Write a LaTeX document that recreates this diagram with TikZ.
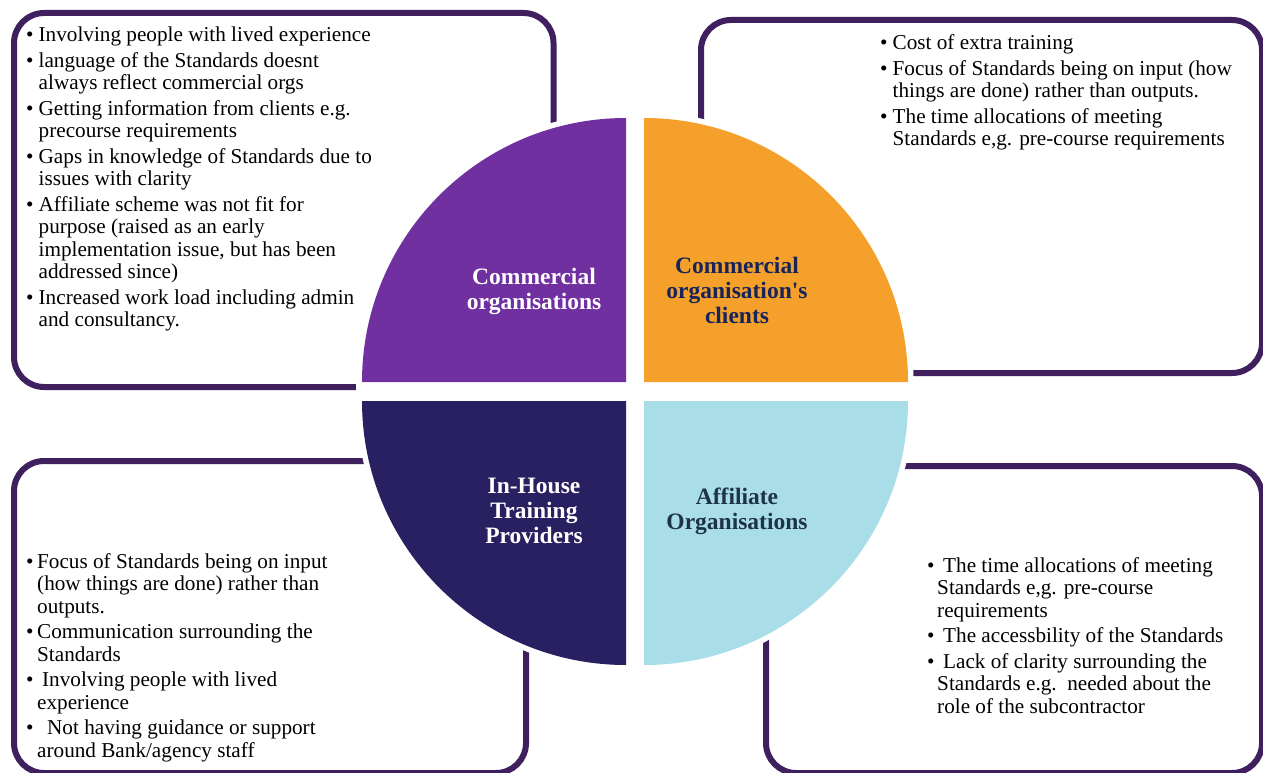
\documentclass[tikz,border=0pt]{standalone}
\usepackage{fontspec}
\setmainfont{Liberation Serif}
\definecolor{boxc}{RGB}{64,31,95}
\definecolor{cpurple}{RGB}{112,48,160}
\definecolor{corange}{RGB}{245,160,42}
\definecolor{cnavy}{RGB}{40,32,96}
\definecolor{clblue}{RGB}{169,221,232}
\definecolor{tnavy}{RGB}{22,36,90}
\definecolor{tslate}{RGB}{30,50,72}
\newcommand{\bu}[1][12.5pt]{\makebox[#1][l]{\textbullet}}
\newcommand{\ind}[1][12.5pt]{\hspace*{#1}}
\begin{document}
\begin{tikzpicture}[x=1pt,y=-1pt,
  box/.style={draw=boxc, line width=6pt, rounded corners=30pt, anchor=north west, inner sep=0pt},
  halo/.style={fill=white, draw=white, line width=11pt},
  body/.style={anchor=north west, inner sep=0pt, align=left, font=\fontsize{21.2}{22.5}\selectfont},
  lbl/.style={align=center, inner sep=0pt, font=\fontsize{23.5}{25}\selectfont\bfseries}]
\useasboundingbox[fill=white] (0,0) rectangle (1263,773);
% boxes
\node[box, minimum width=539.5pt, minimum height=374pt] (tlbox) at (11,10) {};
\node[box, minimum width=561pt, minimum height=353pt] (trbox) at (698,17) {};
\node[box, minimum width=512pt, minimum height=312pt] (blbox) at (11,458) {};
\node[box, minimum width=496pt, minimum height=307pt] (brbox) at (763,463) {};
% halos
\path[halo] (626,382) -- (362,382) arc[start angle=180, end angle=270, radius=264] -- cycle;
\path[halo] (644,382) -- (644,118) arc[start angle=270, end angle=360, radius=264] -- cycle;
\path[halo] (626,401) -- (362,401) arc[start angle=180, end angle=90, radius=264] -- cycle;
\path[halo] (644,401) -- (908,401) arc[start angle=0, end angle=90, radius=264] -- cycle;
\fill[white] (356,380) rectangle (914,403);
\fill[white] (624,112) rectangle (646,671);
% quadrants
\fill[cpurple] (626,382) -- (362,382) arc[start angle=180, end angle=270, radius=264] -- cycle;
\fill[corange] (644,382) -- (644,118) arc[start angle=270, end angle=360, radius=264] -- cycle;
\fill[cnavy] (626,401) -- (362,401) arc[start angle=180, end angle=90, radius=264] -- cycle;
\fill[clblue] (644,401) -- (908,401) arc[start angle=0, end angle=90, radius=264] -- cycle;
% labels
\node[lbl, text=white] (lco) at (534,291) {Commercial\\organisations};
\node[lbl, text=tnavy] (lcc) at (737,290) {Commercial\\organisation\textquotesingle s\\clients};
\node[lbl, text=white] (lih) at (534,511) {In-House\\Training\\Providers};
\node[lbl, text=tslate] (laf) at (737,511) {Affiliate\\Organisations};
% texts
\node[body] (ttl) at (26,27) {\bu Involving people with lived experience\\[3pt]
\bu language of the Standards doesnt\\
\ind always reflect commercial orgs\\[3pt]
\bu Getting information from clients e.g.\\
\ind precourse requirements\\[3pt]
\bu Gaps in knowledge of Standards due to\\
\ind issues with clarity\\[3pt]
\bu Affiliate scheme was not fit for\\
\ind purpose (raised as an early\\
\ind implementation issue, but has been\\
\ind addressed since)\\[3pt]
\bu Increased work load including admin\\
\ind and consultancy.};
\node[body] (ttr) at (880,34.5) {\bu Cost of extra training\\[3pt]
\bu Focus of Standards being on input (how\\
\ind things are done) rather than outputs.\\[3pt]
\bu The time allocations of meeting\\
\ind Standards e,g. pre-course requirements};
\node[body] (tbl) at (26,553) {\bu[11pt]Focus of Standards being on input\\
\ind[11pt](how things are done) rather than\\
\ind[11pt]outputs.\\[3pt]
\bu[11pt]Communication surrounding the\\
\ind[11pt]Standards\\[3pt]
\bu[16pt]Involving people with lived\\
\ind[11pt]experience\\[3pt]
\bu[21pt]Not having guidance or support\\
\ind[11pt]around Bank/agency staff};
\node[body] (tbr) at (927,557) {\bu[16pt]The time allocations of meeting\\
\ind[10pt]Standards e,g. pre-course\\
\ind[10pt]requirements\\[3pt]
\bu[16pt]The accessbility of the Standards\\[3pt]
\bu[16pt]Lack of clarity surrounding the\\
\ind[10pt]Standards e.g.\ \ needed about the\\
\ind[10pt]role of the subcontractor};
\end{tikzpicture}
\end{document}
